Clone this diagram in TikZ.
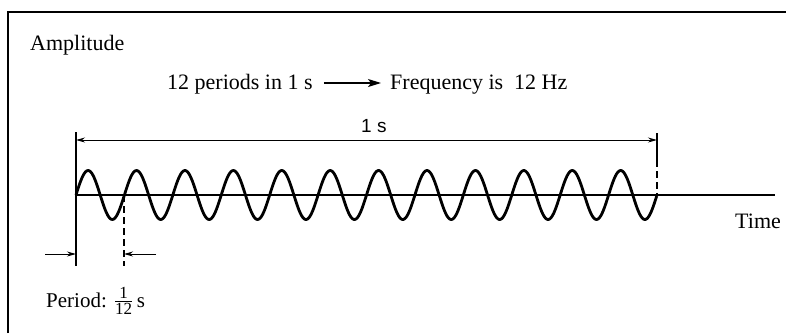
\documentclass[tikz,border=0pt]{standalone}
\usepackage{amsmath}
\usepackage{fontspec}
\setmainfont{Liberation Serif}
\setsansfont{Liberation Sans}
\usetikzlibrary{arrows.meta}
\tikzset{
  lbl/.style={inner sep=0pt, anchor=base west, font=\fontsize{22}{26}\selectfont},
  frameline/.style={line width=1.4pt},
  dimline/.style={line width=1pt},
  dimtip/.style={-{Stealth[length=9pt,width=5pt]}},
  wave/.style={line width=2.8pt, line join=round},
  axisline/.style={line width=1.6pt},
}
\newcommand{\fracdigits}[1]{\text{\fontsize{17}{17}\selectfont #1}}
\begin{document}
\begin{tikzpicture}[x=1pt,y=-1pt]
\useasboundingbox (0,0) rectangle (786,333);
% frame
\draw[frameline] (8,333) -- (8,12) -- (786,12);
% texts
\node[lbl] (amp) at (30,50) {Amplitude};
\node[lbl] (per12) at (167,89) {12 periods in 1 s};
\node[lbl] (freq) at (390,89) {Frequency is\ \ 12 Hz};
\node[lbl, font=\sffamily\fontsize{19}{22}\selectfont] (onesec) at (361,132) {1 s};
\node[lbl] (time) at (735,228) {Time};
\node[lbl, font=\fontsize{21}{24}\selectfont] (period) at (46,307) {Period: $\genfrac{}{}{0.9pt}{1}{\fracdigits{1}}{\fracdigits{12}}$\,s};
\draw[line width=1.3pt, -{Stealth[length=13pt,width=8pt,inset=3pt]}] ([xshift=11pt,yshift=6pt]per12.base east) -- ([xshift=-9pt,yshift=6pt]freq.base west);
% coordinates
\coordinate (o) at (76,195);
\coordinate (e) at (657,195);
\coordinate (tend) at (775,195);
\coordinate (ltop) at (76,132);
\coordinate (lbot) at (76,266);
\coordinate (rtop) at (657,133);
\coordinate (rmid) at (657,160);
\coordinate (ptop) at (124,195);
\coordinate (pbot) at (124,266);
\coordinate (aL) at (76,140);
\coordinate (aR) at (657,140);
\coordinate (pl0) at (45,254);
\coordinate (pl1) at (76,254);
\coordinate (pr0) at (156,254);
\coordinate (pr1) at (124,254);
% axis
\draw[axisline] (o) -- (tend);
% wave
\draw[wave] plot[domain=0:12, samples=480, smooth] ({76+\x*48.4167},{195-24.5*sin(\x*360)});
% vertical marks
\draw[line width=1.2pt] (ltop) -- (lbot);
\draw[line width=1.2pt] (rtop) -- (rmid);
\draw[line width=1.2pt, dash pattern=on 7pt off 4pt] (rmid) -- (e);
\draw[line width=1.2pt, dash pattern=on 7pt off 4pt] (ptop) -- (pbot);
% 1 s dimension
\draw[dimline, {Stealth[length=9pt,width=5pt]}-{Stealth[length=9pt,width=5pt]}] (aL) -- (aR);
% period arrows
\draw[dimline, dimtip] (pl0) -- (pl1);
\draw[dimline, dimtip] (pr0) -- (pr1);
\end{tikzpicture}
\end{document}
